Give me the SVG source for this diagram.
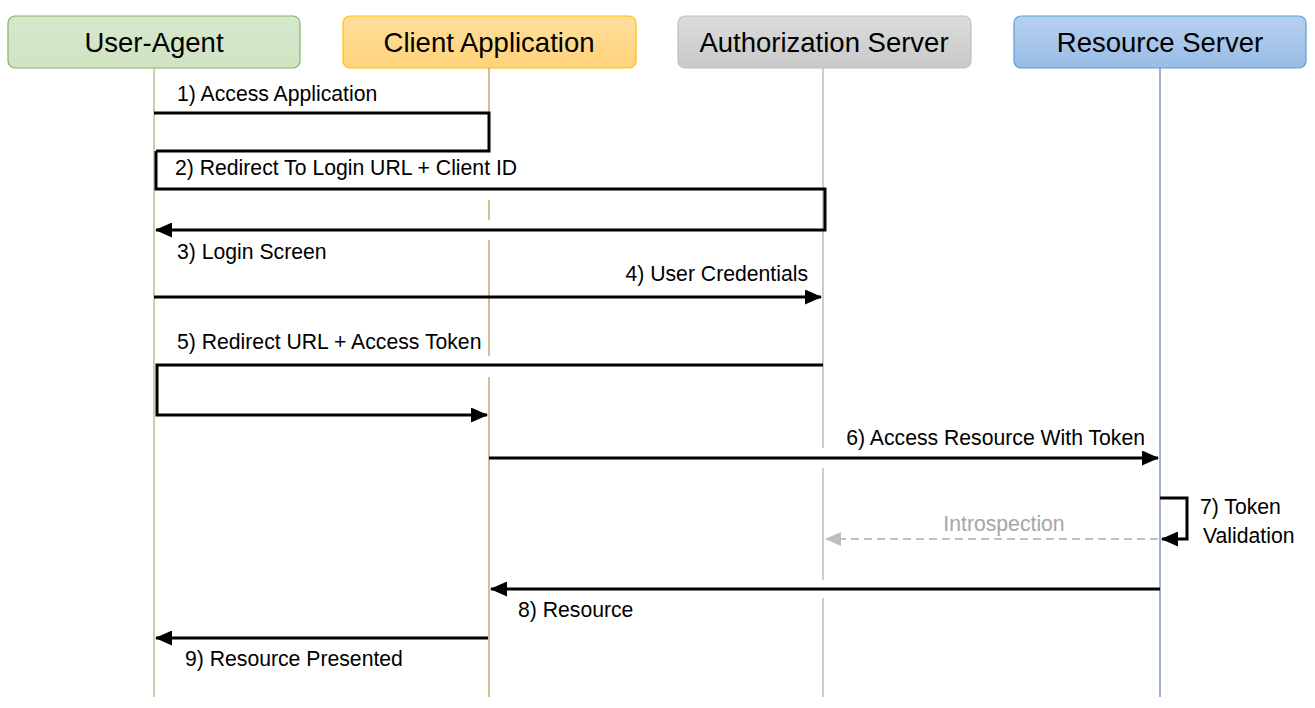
<svg xmlns="http://www.w3.org/2000/svg" width="1315" height="708" viewBox="0 0 1315 708">
  <style>
    .hdr { font-family: "Liberation Sans", Arial, sans-serif; font-size: 27.5px; fill: #000; text-anchor: middle; }
    .lbl { font-family: "Liberation Sans", Arial, sans-serif; font-size: 21.2px; fill: #000; }
    .gray { fill: #A6A6A6; }
    .msg { fill: none; stroke: #000; stroke-width: 3; }
    .dash { fill: none; stroke: #BFBFBF; stroke-width: 2; stroke-dasharray: 8 5; }
    .ll { fill: none; stroke-width: 1.5; }
  </style>
  <defs>
    <linearGradient id="gUA" x1="0" y1="0" x2="0" y2="1"><stop offset="0" stop-color="#D5E8CB"/><stop offset="1" stop-color="#D0E4C4"/></linearGradient>
    <linearGradient id="gCA" x1="0" y1="0" x2="0" y2="1"><stop offset="0" stop-color="#FFDF9E"/><stop offset="1" stop-color="#FFD27A"/></linearGradient>
    <linearGradient id="gAS" x1="0" y1="0" x2="0" y2="1"><stop offset="0" stop-color="#DCDCDC"/><stop offset="1" stop-color="#C9C9C9"/></linearGradient>
    <linearGradient id="gRS" x1="0" y1="0" x2="0" y2="1"><stop offset="0" stop-color="#B7D0EE"/><stop offset="1" stop-color="#99BDE6"/></linearGradient>
    <marker id="ah" markerUnits="userSpaceOnUse" markerWidth="17" markerHeight="15" refX="16" refY="7.5" orient="auto">
      <path d="M0,0 L17,7.5 L0,15 z" fill="#000"/>
    </marker>
    <marker id="ahg" markerUnits="userSpaceOnUse" markerWidth="16" markerHeight="14" refX="15" refY="7" orient="auto">
      <path d="M0,0 L16,7 L0,14 z" fill="#BFBFBF"/>
    </marker>
  </defs>
  <rect width="1315" height="708" fill="#fff"/>

  <g id="user-agent">
    <rect x="8" y="16" width="292" height="52" rx="7" fill="url(#gUA)" stroke="#82B366" stroke-width="1.2"/>
    <text class="hdr" x="154" y="52">User-Agent</text>
    <line class="ll" x1="154" y1="68" x2="154" y2="697" stroke="#A9C98F"/>
  </g>
  <g id="client-application">
    <rect x="343" y="16" width="293" height="52" rx="7" fill="url(#gCA)" stroke="#FFC000" stroke-width="1.2"/>
    <text class="hdr" x="489" y="52">Client Application</text>
    <path class="ll" d="M489,68 V113 M489,200 V220 M489,240 V356 M489,377 V697" stroke="#C4AA70"/>
  </g>
  <g id="authorization-server">
    <rect x="678" y="16" width="293" height="52" rx="7" fill="url(#gAS)" stroke="#BFBFBF" stroke-width="1.2"/>
    <text class="hdr" x="824" y="52">Authorization Server</text>
    <path class="ll" d="M823,68 V448 M823,468 V580 M823,598 V697" stroke="#BDBDBD"/>
  </g>
  <g id="resource-server">
    <rect x="1014" y="16" width="292" height="52" rx="7" fill="url(#gRS)" stroke="#5B9BD5" stroke-width="1.2"/>
    <text class="hdr" x="1160" y="52">Resource Server</text>
    <line class="ll" x1="1160" y1="68" x2="1160" y2="697" stroke="#8497C4"/>
  </g>

  <g id="connectors">
    <path class="msg" d="M154,113 H489 V151 H156"/>
    <path class="msg" d="M156,151 V189 H825 V230 H156" marker-end="url(#ah)"/>
    <path class="msg" d="M154,297 H821" marker-end="url(#ah)"/>
    <path class="msg" d="M823,365 H157 V415 H487" marker-end="url(#ah)"/>
    <path class="msg" d="M489,458 H1158" marker-end="url(#ah)"/>
    <path class="msg" d="M1160,498 H1187 V539 H1162" marker-end="url(#ah)"/>
    <path class="dash" d="M1158,539 H826" marker-end="url(#ahg)"/>
    <path class="msg" d="M1160,589 H491" marker-end="url(#ah)"/>
    <path class="msg" d="M488,638 H156" marker-end="url(#ah)"/>

    <text class="lbl" x="177" y="101">1) Access Application</text>
    <text class="lbl" x="175" y="175">2) Redirect To Login URL + Client ID</text>
    <text class="lbl" x="177" y="259">3) Login Screen</text>
    <text class="lbl" x="808" y="281" text-anchor="end">4) User Credentials</text>
    <text class="lbl" x="177" y="349">5) Redirect URL + Access Token</text>
    <text class="lbl" x="1145" y="445" text-anchor="end">6) Access Resource With Token</text>
    <text class="lbl" x="1200" y="514">7) Token</text>
    <text class="lbl" x="1203" y="543">Validation</text>
    <text class="lbl gray" x="1004" y="531" text-anchor="middle">Introspection</text>
    <text class="lbl" x="518" y="617">8) Resource</text>
    <text class="lbl" x="185" y="666">9) Resource Presented</text>
  </g>
</svg>
